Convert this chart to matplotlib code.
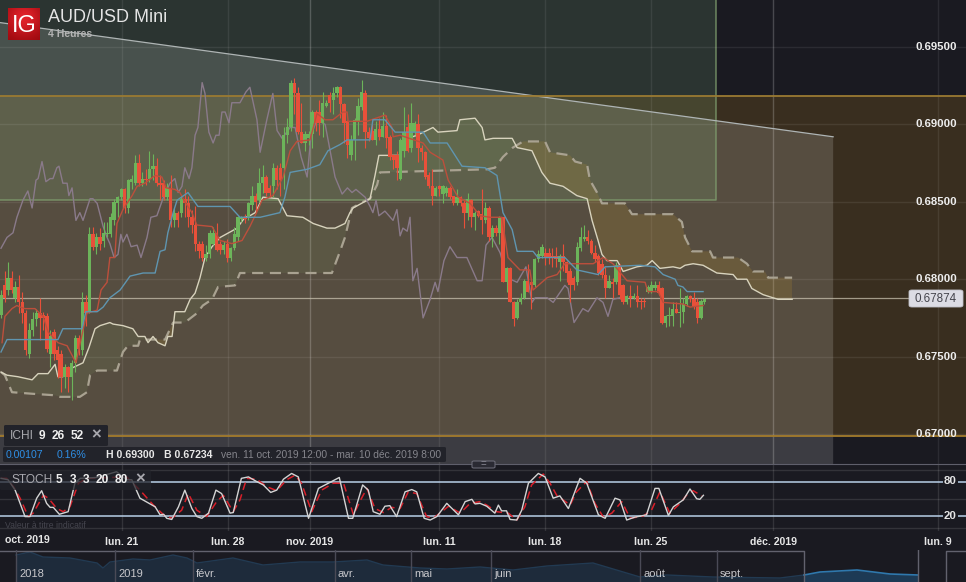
import numpy as np
import matplotlib
matplotlib.use("Agg")
import matplotlib.pyplot as plt
from matplotlib.patches import Rectangle, FancyBboxPatch

plt.rcParams['font.family'] = ['Liberation Sans', 'DejaVu Sans']

# ===== candles, 4h bars, in 1/10000 of a point =====
opens = [6777,6796,6793,6801,6788,6795,6785,6778,6752,6767,
         6774,6778,6777,6776,6752,6766,6754,6752,6737,6743,
         6737,6746,6762,6754,6785,6779,6829,6821,6827,6825,
         6829,6829,6838,6849,6853,6858,6846,6863,6862,6875,
         6862,6865,6865,6871,6873,6862,6862,6853,6859,6838,
         6843,6843,6852,6849,6840,6835,6823,6823,6814,6816,
         6823,6830,6823,6819,6823,6814,6820,6827,6839,6840,
         6840,6848,6854,6851,6862,6866,6859,6860,6872,6872,
         6872,6893,6898,6927,6920,6895,6888,6891,6894,6908,
         6908,6901,6912,6919,6916,6920,6924,6913,6902,6880,
         6890,6902,6911,6920,6895,6896,6890,6897,6892,6899,
         6892,6880,6880,6865,6883,6898,6885,6895,6900,6885,
         6882,6867,6860,6854,6860,6855,6856,6859,6854,6849,
         6853,6849,6843,6851,6840,6844,6842,6838,6846,6827,
         6833,6830,6840,6798,6807,6785,6775,6785,6788,6799,
         6798,6796,6813,6815,6817,6817,6815,6815,6811,6815,
         6811,6805,6801,6798,6820,6826,6827,6825,6817,6815,
         6810,6803,6794,6798,6798,6809,6796,6785,6789,6788,
         6789,6786,6786,6792,6792,6794,6796,6794,6772,6776,
         6776,6781,6778,6779,6784,6789,6787,6785,6775,6785]
closes = [6790,6788,6801,6793,6795,6785,6778,6754,6767,6774,
          6778,6775,6775,6755,6763,6752,6748,6737,6743,6737,
          6746,6762,6755,6785,6778,6829,6821,6827,6823,6830,
          6830,6840,6850,6853,6858,6846,6864,6865,6875,6862,
          6865,6864,6871,6873,6862,6861,6853,6859,6838,6843,
          6838,6852,6849,6840,6835,6823,6818,6814,6816,6830,
          6830,6819,6819,6822,6814,6820,6829,6840,6840,6839,
          6849,6854,6850,6862,6866,6856,6856,6872,6864,6864,
          6893,6898,6927,6920,6895,6888,6894,6894,6908,6901,
          6901,6914,6914,6914,6920,6924,6913,6901,6887,6890,
          6903,6912,6921,6895,6891,6890,6897,6892,6899,6891,
          6879,6877,6872,6890,6895,6883,6901,6901,6885,6882,
          6866,6860,6854,6859,6858,6860,6859,6853,6849,6853,
          6849,6843,6852,6840,6843,6841,6838,6846,6827,6833,
          6830,6840,6798,6807,6785,6774,6785,6788,6799,6792,
          6796,6813,6816,6821,6814,6814,6814,6813,6815,6811,
          6804,6796,6796,6821,6827,6827,6825,6817,6813,6804,
          6803,6794,6799,6797,6809,6790,6785,6789,6788,6789,
          6785,6785,6785,6795,6796,6796,6791,6772,6776,6777,
          6781,6778,6779,6784,6789,6787,6783,6775,6786,6787]
highs = [6793,6805,6811,6805,6799,6803,6792,6780,6772,6779,
         6781,6788,6779,6778,6767,6768,6757,6754,6745,6744,
         6748,6764,6764,6792,6790,6834,6834,6830,6833,6837,
         6837,6843,6852,6854,6859,6859,6865,6867,6880,6881,
         6869,6871,6883,6881,6878,6867,6864,6862,6867,6846,
         6844,6854,6858,6854,6845,6847,6825,6825,6822,6832,
         6834,6836,6825,6825,6826,6821,6834,6841,6841,6842,
         6850,6860,6856,6872,6874,6867,6861,6875,6874,6875,
         6898,6904,6929,6930,6924,6914,6896,6896,6909,6909,
         6916,6921,6916,6921,6924,6925,6925,6914,6903,6893,
         6904,6917,6929,6922,6898,6900,6902,6904,6908,6906,
         6893,6881,6883,6891,6911,6907,6914,6902,6907,6887,
         6883,6869,6871,6860,6861,6861,6860,6860,6854,6858,
         6854,6851,6856,6852,6844,6845,6858,6850,6847,6835,
         6835,6841,6840,6808,6808,6786,6787,6791,6800,6810,
         6799,6814,6819,6823,6820,6820,6820,6821,6816,6823,
         6812,6807,6802,6824,6834,6835,6832,6826,6822,6816,
         6813,6808,6803,6801,6811,6810,6797,6790,6796,6791,
         6796,6788,6788,6796,6799,6799,6799,6795,6777,6782,
         6785,6785,6794,6788,6790,6790,6792,6788,6787,6788]
lows = [6775,6785,6790,6791,6785,6778,6772,6751,6749,6763,
        6770,6761,6767,6753,6743,6748,6736,6727,6730,6727,
        6722,6740,6751,6751,6770,6778,6819,6816,6819,6821,
        6827,6827,6835,6840,6851,6843,6843,6858,6861,6860,
        6860,6861,6863,6864,6860,6851,6851,6851,6834,6834,
        6834,6840,6840,6834,6830,6818,6814,6812,6812,6814,
        6822,6818,6816,6816,6811,6812,6819,6825,6837,6836,
        6838,6845,6843,6850,6856,6854,6853,6853,6858,6854,
        6858,6888,6896,6907,6894,6888,6883,6887,6885,6896,
        6893,6892,6911,6908,6907,6918,6904,6888,6878,6877,
        6877,6893,6909,6885,6889,6890,6887,6890,6892,6885,
        6877,6871,6864,6864,6879,6882,6882,6893,6876,6877,
        6865,6859,6848,6854,6854,6849,6854,6852,6848,6848,
        6847,6833,6838,6834,6832,6840,6829,6836,6825,6821,
        6828,6823,6798,6792,6785,6770,6774,6784,6787,6792,
        6781,6795,6811,6814,6809,6810,6808,6808,6799,6805,
        6798,6785,6793,6796,6818,6825,6823,6816,6811,6803,
        6801,6788,6794,6788,6797,6787,6784,6784,6782,6787,
        6782,6781,6782,6791,6791,6793,6790,6771,6769,6770,
        6770,6778,6769,6772,6783,6785,6781,6772,6774,6784]

# ===== ichimoku lines, (bar, level) =====
tenkan = [(0.3,6759),(1.1,6776),(3.1,6781),(4.5,6783),(5.4,6782),(6.8,6781),(9.6,6781),(11.9,6776),(13.3,6766),
          (16.1,6759),(18.7,6757),(21.2,6746),(23.2,6767),(24.3,6778),(27.2,6780),(28.3,6793),(30,6798),(30.8,6814),
          (32.2,6814),(32.8,6836),(34.5,6845),(37.1,6854),(38.5,6860),(40.7,6862),(43.6,6867),(45.5,6866),(46.7,6859),
          (49.2,6858),(50.6,6856),(52,6850),(54,6843),(55.4,6835),(59.7,6834),(62,6825),(65.3,6823),(68.2,6825),
          (70.4,6834),(72.7,6845),(73.8,6851),(76.9,6854),(79.8,6866),(81.8,6883),(83.7,6889),(87.4,6890),(89.4,6907),
          (91.7,6903),(93.9,6903),(96.7,6908),(97.9,6908),(98.2,6902),(103.5,6902),(108.6,6906),(110.6,6898),(110.9,6892),
          (112.9,6893),(119.4,6888),(121.4,6882),(125,6877),(126.5,6864),(129.3,6853),(132.7,6849),(135.5,6841),
          (138.3,6840),(141.7,6840),(143.4,6814),(146.8,6806),(149.6,6806),(150.5,6793),(154.5,6801),(157.3,6803),
          (159.5,6810),(167.5,6810),(170.3,6814),(173.1,6810),(177.1,6799),(182.2,6798),(183,6792),(185.9,6792),
          (187.3,6785),(192.9,6784),(194.9,6782),(198.6,6783)]
kijun = [(0,6753),(1.7,6761),(16.1,6761),(17.5,6768),(19,6768),(22.9,6768),(24,6779),(27.2,6779),(28.9,6782),(30.8,6788),
         (33.7,6793),(36.5,6802),(40.2,6804),(43.6,6804),(45,6818),(46.4,6819),(47.2,6830),(48.7,6843),(49.8,6851),
         (52.9,6856),(55.7,6847),(64.8,6847),(67.6,6840),(73.3,6840),(78.9,6843),(80.3,6853),(81.8,6869),(86.6,6871),
         (90.2,6874),(92.5,6883),(95.9,6887),(97.9,6890),(104.4,6890),(105.2,6903),(108.6,6903),(111.5,6895),(119.4,6895),
         (121.4,6888),(126.2,6888),(130.4,6873),(136.9,6872),(140.3,6867),(142,6843),(144.6,6832),(146,6818),(150.5,6818),
         (151.9,6814),(159.5,6814),(162.9,6806),(168.9,6803),(170.9,6808),(180.8,6809),(185,6808),(187.3,6803),(190.7,6800),
         (191.5,6796),(192.9,6795),(194.1,6792),(198.6,6792)]
chikou = [(0,6820),(1.7,6827),(3.4,6830),(4.5,6840),(6.2,6851),(7.6,6857),(8.8,6846),(9.9,6864),(10.5,6865),(11.6,6876),
          (12.7,6863),(13.9,6865),(14.7,6865),(15.8,6872),(16.4,6873),(17.5,6862),(18.7,6862),(19.2,6854),(20.1,6859),
          (21.2,6838),(22.3,6843),(23.2,6838),(25.2,6852),(26,6852),(27.2,6849),(28.9,6834),(30,6827),(30.8,6823),(32,6814),
          (33.1,6816),(33.9,6829),(34.5,6824),(35.6,6829),(36.8,6821),(38.5,6822),(39.6,6814),(41.3,6827),(42.4,6840),
          (44.1,6841),(45.8,6852),(47.8,6862),(49.2,6865),(50.1,6856),(51.2,6860),(52,6872),(53.2,6865),(54,6872),(54.9,6893),
          (55.7,6898),(56.9,6927),(57.7,6920),(58.8,6895),(60,6888),(60.8,6893),(61.7,6893),(62.5,6908),(63.4,6908),(64.5,6901),
          (65.3,6914),(67.6,6914),(69.3,6921),(70.4,6924),(72.4,6903),(73.3,6882),(75.2,6903),(76.9,6920),(78.1,6896),
          (79.5,6891),(81.8,6898),(83.2,6898),(84.9,6879),(86.6,6866),(87.7,6893),(89.4,6903),(91.7,6900),(93.1,6883),
          (94.5,6866),(96.5,6855),(98,6859),(99.3,6856),(100.4,6858),(103,6853),(104.4,6847),(105.2,6843),(106.1,6851),
          (106.9,6841),(108.6,6844),(110.9,6838),(112,6845),(112.9,6828),(113.7,6833),(114.9,6831),(115.7,6840),(116.5,6799),
          (117.7,6807),(119.4,6775),(121.4,6787),(122.8,6798),(123.6,6792),(125.3,6812),(127,6821),(129,6814),(131.8,6814),
          (134.7,6799),(136.1,6799),(137.2,6822),(138.9,6827),(141.2,6817),(143.1,6801),(146,6798),(148.5,6808),(150.2,6785),
          (151.1,6788),(154.5,6788),(156.2,6785),(159.5,6796),(160.4,6794),(162.1,6772),(164.6,6781),(166.1,6779),(168.6,6788),
          (170.3,6785),(171.7,6776),(173.1,6787),(175.1,6788)]
senkou_a = [(0,6740),(1.7,6738),(4.8,6737),(8.8,6735),(10.5,6739),(13.3,6739),(15.3,6745),(16.1,6737),(17.5,6737),(19.5,6742),
            (23.2,6746),(24.9,6756),(26.6,6768),(28,6770),(30.8,6772),(31.7,6771),(34.5,6770),(37.3,6768),(38.8,6763),(40.7,6763),
            (41.6,6759),(43,6763),(44.4,6759),(46.4,6757),(47.2,6763),(48.4,6763),(49.2,6779),(52,6779),(53.5,6787),(54.9,6791),
            (56.3,6801),(57.7,6814),(59.7,6821),(62,6827),(66.8,6833),(69,6840),(70.4,6841),(71.9,6843),(74.1,6853),(78.4,6852),
            (80.9,6841),(85.4,6840),(88.3,6836),(92.2,6833),(94.5,6833),(97.3,6836),(98.7,6843),(99.6,6846),(104.4,6852),(105.8,6867),
            (106.9,6880),(112.9,6880),(113.7,6890),(117.7,6893),(122.2,6898),(123.6,6895),(129,6896),(129.8,6903),(134.1,6904),
            (136.1,6898),(136.9,6890),(139.2,6891),(144.6,6891),(146,6885),(150.2,6883),(153,6869),(155.3,6862),(159,6860),
            (162.9,6854),(165.8,6852),(167.2,6838),(168.9,6825),(170,6816),(171.4,6812),(174.3,6812),(176,6805),(179.9,6808),
            (182.7,6809),(184.2,6812),(186.4,6807),(190.1,6808),(192.1,6807),(193.5,6809),(195.8,6810),(198.6,6809),(202.5,6804),
            (207.1,6803),(208.2,6800),(211,6800),(212.4,6794),(215.6,6790),(218.4,6788),(219.8,6787),(223.8,6787)]
senkou_b = [(0,6740),(1.1,6738),(3.1,6727),(8.8,6726),(15.3,6725),(16.7,6724),(22.3,6724),(24.3,6727),(25.2,6738),(27.2,6741),
            (32.8,6741),(34.5,6753),(35.9,6757),(38.8,6757),(39.3,6761),(46.4,6761),(48.7,6772),(52,6772),(55.4,6778),(57.1,6783),
            (59.7,6787),(61.4,6795),(66.2,6796),(67.6,6804),(93.6,6804),(95.9,6818),(97.3,6827),(99.3,6846),(102.4,6850),(104.4,6852),
            (106.4,6861),(107.2,6869),(137.5,6871),(139.7,6872),(142,6879),(144.8,6885),(147.7,6889),(153.9,6889),(155.3,6882),
            (161,6880),(162.4,6876),(165.8,6874),(166.6,6864),(168.6,6856),(170,6849),(176.5,6849),(178.5,6842),(190.1,6842),
            (192.6,6837),(193.5,6827),(195.5,6818),(200.6,6818),(201.4,6814),(208.5,6814),(211,6810),(212.7,6805),(216.1,6805),
            (217,6801),(223.8,6801)]

# ===== stochastic =====
stoch_k = [(0,85.5),(2,83),(4,65),(6.8,19),(8.2,19),(10.1,51),(11.5,64),(12.9,42),(13.9,35),(14.8,35),(16.5,23),(19,27.5),(20.9,77),
           (22.4,85.5),(27,87),(32.7,97),(35.5,83),(37,83),(39.3,51),(43.6,36),(45,22),(46,23),(46.9,16),(48.3,14),(50.2,36),(52,65),
           (54,33),(55.4,19),(56.8,16),(58.7,25),(60.8,65),(62.4,59),(64.8,25),(65.7,26),(68,85.5),(70,88),(72.3,80),(74.2,74),(76.3,61),
           (78,65),(79.9,84),(82.2,94),(84.1,88),(87,16),(89.8,68),(92.6,77),(95.7,87),(98.3,16),(99.5,16),(102.3,74),(103.9,65),
           (105.3,27.5),(107.2,23),(108.6,37),(110,38),(111.9,19),(114.3,62),(116.2,66),(117.6,62),(119.7,16),(121.4,13),(123.3,19),
           (126.1,42),(129.4,22),(131.3,45),(133.2,49),(134.1,41),(135.5,42),(137.4,37),(139.7,25),(140.7,39),(141.6,29),(143,29),
           (144,14),(145.9,13),(147.3,30),(149.2,77),(152,94),(153.9,88),(156.2,51),(158.1,55),(160.5,33),(163.8,85.5),(165.7,77),
           (169,22),(170.9,16),(173.7,51),(175.1,48),(177,13),(179.3,18),(182.6,22),(185,68),(186.1,68),(188.8,21),(190.2,36),(193,48),
           (194.9,67),(196.8,50),(197.7,49),(198.7,56)]
stoch_d = [(0,85.5),(1.6,85.5),(3.5,71),(5.4,51),(7.7,19),(9.1,25),(12,56),(13.4,51),(15.8,33),(17.6,27.5),(19.5,36),(21.9,77),(24.2,85.5),
           (35.5,88),(39.3,65),(43.1,39),(46,22),(48.3,16),(51.1,30),(53,59),(55.4,30),(58.2,19),(61,45),(62.9,56),(65.7,27.5),(67.6,48),
           (69.5,85.5),(72.3,84),(75.2,71),(78,64),(80.8,83),(83.2,91),(85,77),(87.9,27.5),(90.7,65),(94,77),(96.9,77),(99.7,22),(102,51),
           (103.5,68),(105.8,33),(108.2,26),(110.5,35),(112.9,33),(115.2,62),(117.6,59),(120.4,19),(122.3,16),(126.6,37),(129.9,25),
           (132.7,42),(135.5,45),(137.4,39),(140.2,27.5),(143.5,25),(145.9,13),(148.2,36),(150.1,74),(153.4,93),(155.3,77),(157.2,56),
           (161,39),(162.8,62),(165.7,80),(168,42),(170.4,18),(172.8,25),(175.6,45),(178,16),(181.7,20),(184,30),(186.4,62),(189.2,25),
           (192.1,42),(193.9,56),(195.8,64),(198.2,55)]

# ===== axis stuff =====
price_ticks = [0.695, 0.69, 0.685, 0.68, 0.675, 0.67]
last_price = 0.67874
time_bars = [34.2, 64.2, 87.4, 123.9, 153.9, 183.9, 218.4, 265]
time_labels = ['lun. 21', 'lun. 28', 'nov. 2019', 'lun. 11', 'lun. 18', 'lun. 25', 'déc. 2019', 'lun. 9']

# drawn zones from the chart
zone_top, zone_bottom = 0.69185, 0.66988
box_bottom, box_right = 0.6851, 202.3
wedge_bars = [-1, 235.4, 235.4, -1]
wedge_levels = [0.6966, 0.6892, 0.66, 0.66]

# navigator
nav_x = [16,30,43,70,97,103,110,133,150,173,187,197,233,263,300,333,367,383,420,447,480,513,547,593,640,667,713,780,804]
nav_level = [27,30,25,24,19,14,20,23,22,27,24,19,24,17,20,20,22,17,14,13,15,12,16,19,5,7,5,4,7]
nav_sel_x = [804,820,857,890,918]
nav_sel_level = [7,10,12,8,7]
nav_sep = [16,115,193,335,411,491,640,717]
nav_labels = ['2018','2019','févr.','avr.','mai','juin','août','sept.']

BG = '#1a1a21'
W, H = 966, 582
fig = plt.figure(figsize=(W/100, H/100), dpi=100, facecolor=BG)

def fx(px):
    return px/W
def fy(py):
    return 1-py/H

ax = fig.add_axes([0, fy(464), 1, 464/H], facecolor=BG)
ax_s = fig.add_axes([0, fy(531), 1, 67/H], facecolor=BG, sharex=ax)
ax_n = fig.add_axes([0, 0, 1, 32/H], facecolor=BG)

# ===== main panel =====
ax.set_xlim(-0.283, 272.98)
ax.set_ylim(0.67-30*6.46e-5, 0.67+434*6.46e-5)
ax.add_patch(Rectangle((-1, zone_bottom), 300, zone_top-zone_bottom, fc='#ba8318', alpha=.2, ec='none', zorder=.1))
ax.fill(wedge_bars, wedge_levels, fc='white', alpha=.15, ec='none', zorder=.2)
ax.add_patch(Rectangle((-1, box_bottom), box_right+1, .02, fc='#92ce8d', alpha=.15, ec='none', zorder=.3))
ax.plot([-1, box_right, box_right], [box_bottom, box_bottom, .71], color='#7f9e6e', lw=1.1, alpha=.8, zorder=.4)
ax.plot(wedge_bars[:2], wedge_levels[:2], color='#aeb4b4', lw=.9, zorder=1)
ax.axhline(zone_top, color='#9a7a32', lw=1.3, zorder=1)
ax.axhline(zone_bottom, color='#a47c2c', lw=1.3, zorder=1)

ax.set_yticks(price_ticks)
ax.set_xticks(time_bars)
ax.tick_params(left=False, bottom=False, labelleft=False, labelbottom=False)
ax.grid(True, color='white', alpha=.08, lw=1)
ax.set_axisbelow(True)
for s in ax.spines.values():
    s.set_visible(False)
for b in (87.4, 218.4):
    ax.axvline(b, color='white', alpha=.14, lw=1, zorder=.6)

# cloud
sa = np.array(senkou_a)
sb = np.array(senkou_b)
grid = np.arange(0, 224, .25)
a = np.interp(grid, sa[:, 0], sa[:, 1])/1e4
b = np.interp(grid, sb[:, 0], sb[:, 1])/1e4
ax.fill_between(grid, a, b, where=a >= b, color='#7a9a60', alpha=.14, lw=0, zorder=1.2)
ax.fill_between(grid, a, b, where=a < b, color='#b08a30', alpha=.22, lw=0, zorder=1.2)

ax.axhline(last_price+0.00003, color='#c8c1ae', lw=.9, alpha=.75, zorder=1.3, xmax=908/W)

def draw_line(points, **kw):
    pts = np.array(points)
    ax.plot(pts[:, 0], pts[:, 1]/1e4, **kw)

draw_line(senkou_b, color='#a9a291', lw=1.6, dashes=(5, 3), zorder=1.5)
draw_line(senkou_a, color='#d8d3bd', lw=1, zorder=1.6)
draw_line(chikou, color='#8a7a8a', lw=1, zorder=1.7)

bars = np.arange(len(opens))
o = np.array(opens)/1e4
c = np.array(closes)/1e4
colors = np.where(c >= o, '#6cb45a', '#e8503a')
ax.vlines(bars, np.array(lows)/1e4, np.array(highs)/1e4, colors=colors, lw=.8, zorder=2)
body = np.maximum(np.abs(c-o), 0.00008)
ax.bar(bars, body, width=.95, bottom=np.minimum(o, c), color=colors, lw=0, zorder=2.1)

draw_line(tenkan, color='#bd4f3c', lw=1, zorder=2.3)
draw_line(kijun, color='#5f95b0', lw=1, zorder=2.4)

tr = ax.get_yaxis_transform()
for t in price_ticks:
    ax.text(957/W, t, '%.5f' % t, transform=tr, ha='right', va='center', fontsize=8.2, fontweight='bold', color='#eeeeee', zorder=5)
fig.patches.append(FancyBboxPatch((fx(909), fy(307)), 54/W, 17/H, boxstyle='round,pad=0,rounding_size=0.003', transform=fig.transFigure,
                                  fc='#dcdce4', ec='#c0c0c8', lw=.6))
fig.text(fx(936), fy(298.5), '%.5f' % last_price, ha='center', va='center', fontsize=8.4, color='#44444c')

# ===== stochastic panel =====
ax_s.set_ylim((527.5-531)/.575, (527.5-464)/.575)
ax_s.set_yticks([0, 50, 100])
ax_s.set_xticks(time_bars)
ax_s.set_xticklabels(time_labels, fontsize=7.6, fontweight='bold', color='#e6e6e6')
ax_s.tick_params(left=False, bottom=False, labelleft=False, pad=0.5)
ax_s.grid(True, color='white', alpha=.11, lw=1)
ax_s.set_axisbelow(True)
for s in ax_s.spines.values():
    s.set_visible(False)
ax_s.spines['top'].set_visible(True)
ax_s.spines['top'].set_color('#5f5f6b')
ax_s.axhline(80, color='#b9d0e8', lw=1.1, zorder=1)
ax_s.axhline(20, color='#b9d0e8', lw=1.1, zorder=1)
dd = np.array(stoch_d)
kk = np.array(stoch_k)
ax_s.plot(dd[:, 0], dd[:, 1], color='#d8202a', lw=1.1, dashes=(5, 3), zorder=2)
ax_s.plot(kk[:, 0], kk[:, 1], color='#d4d4d4', lw=1, zorder=3)
for v in (80, 20):
    ax_s.text(957/W, v, str(v), transform=ax_s.get_yaxis_transform(), ha='right', va='center', fontsize=8.2, fontweight='bold',
              color='#e6e6e6', zorder=5, bbox=dict(fc=BG, ec='none', pad=1))

fig.text(fx(5), fy(540), 'oct. 2019', ha='left', va='center', fontsize=7.6, fontweight='bold', color='#e6e6e6')

# ===== navigator =====
ax_n.set_xlim(0, W)
ax_n.set_ylim(0, 32)
ax_n.axis('off')
ax_n.fill_between(nav_x, nav_level, 0, color='#1e2b3b', lw=0)
ax_n.plot(nav_x, nav_level, color='#223a52', lw=1)
ax_n.fill_between(nav_sel_x, nav_sel_level, 0, color='#1d3a55', lw=0)
ax_n.plot(nav_sel_x, nav_sel_level, color='#2f78ad', lw=1.2)
ax_n.plot([0, 804, 804], [31.5, 31.5, 0], color='#62626e', lw=1, clip_on=False)
ax_n.plot([918, 918], [0, 32], color='#62626e', lw=1)
ax_n.plot([946, 946, 966], [0, 31.5, 31.5], color='#62626e', lw=1)
for x, lab in zip(nav_sep, nav_labels):
    ax_n.plot([x, x], [0, 32], color='#4a4a56', lw=1)
    ax_n.text(x+3, 8, lab, ha='left', va='center', fontsize=8, color='#c8c8cc')

# ===== logo and title =====
logo = fig.add_axes([fx(8), fy(40), 32/W, 32/H])
yy, xx = np.mgrid[-1:1:32j, -1:1:32j]
logo.imshow(np.exp(-(xx**2+(yy+.4)**2)*.7), cmap=matplotlib.colors.LinearSegmentedColormap.from_list('ig', ['#a00a10', '#e0222a']), aspect='auto')
logo.axis('off')
fig.text(fx(24), fy(25.5), 'IG', ha='center', va='center', fontsize=17, color='white')
fig.text(fx(48), fy(17), 'AUD/USD Mini', ha='left', va='center', fontsize=13, color='#e4e4e4')
fig.text(fx(48), fy(34), '4 Heures', ha='left', va='center', fontsize=7.6, fontweight='bold', color='#b4b4b4')

# ===== chips =====
def chip(x0, y0, x1, y1, alpha=1):
    fig.patches.append(FancyBboxPatch((fx(x0), fy(y1)), (x1-x0)/W, (y1-y0)/H, boxstyle='round,pad=0,rounding_size=0.002',
                                      transform=fig.transFigure, fc='#22232a', ec='none', alpha=alpha, zorder=6))

def label(px, py, s, color, size=8, weight='normal'):
    fig.text(fx(px), fy(py), s, ha='left', va='center', fontsize=size, color=color, fontweight=weight, zorder=7)

chip(4, 425, 108, 446)
label(10, 436, 'ICHI', '#a8a8ae', 8.6)
label(39, 436, '9', '#f0f0f0', 8.6, 'bold')
label(52, 436, '26', '#f0f0f0', 8.6, 'bold')
label(71, 436, '52', '#f0f0f0', 8.6, 'bold')
label(91, 435, '×', '#a8a8ae', 12, 'bold')
chip(3, 447, 446, 462)
label(6, 455.5, '0.00107', '#2f8fe6', 7.6)
label(57, 455.5, '0.16%', '#2f8fe6', 7.6)
label(106, 455.5, 'H 0.69300', '#e8e8e8', 7.6, 'bold')
label(164, 455.5, 'B 0.67234', '#e8e8e8', 7.6, 'bold')
label(221, 455.5, 'ven. 11 oct. 2019 12:00 - mar. 10 déc. 2019 8:00', '#85858c', 7.4)
chip(0, 470, 151, 490, .75)
label(11, 480, 'STOCH', '#a8a8ae', 8.6)
label(56, 480, '5', '#f0f0f0', 8.6, 'bold')
label(70, 480, '3', '#f0f0f0', 8.6, 'bold')
label(83, 480, '3', '#f0f0f0', 8.6, 'bold')
label(96, 480, '20', '#f0f0f0', 8.6, 'bold')
label(115, 480, '80', '#f0f0f0', 8.6, 'bold')
label(135, 479, '×', '#a8a8ae', 12, 'bold')
label(5, 525, 'Valeur à titre indicatif', '#45454e', 6.2)

# panel handle
fig.patches.append(FancyBboxPatch((fx(472), fy(468)), 23/W, 7/H, boxstyle='round,pad=0,rounding_size=0.002', transform=fig.transFigure,
                                  fc='#2a2a33', ec='#6a6a76', lw=.8, zorder=6))
fig.text(fx(483.5), fy(464.5), '=', ha='center', va='center', fontsize=7, color='#8a8a96', zorder=7)

fig.savefig('out.png', dpi=100, facecolor=BG)
